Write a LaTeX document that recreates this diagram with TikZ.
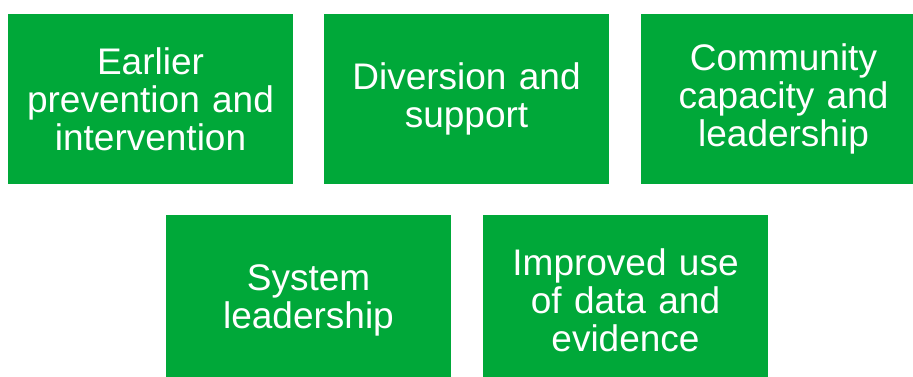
\documentclass[tikz,border=0pt]{standalone}
\usepackage{fontspec}
\setmainfont{Liberation Sans}
\definecolor{boxgreen}{RGB}{0,168,57}
\begin{document}
\begin{tikzpicture}[x=1pt,y=-1pt,
  area/.style={fill=boxgreen, draw=none, text=white, inner sep=0pt,
    minimum width=285pt, minimum height=170pt, text width=280pt, align=center,
    font=\fontsize{37}{38}\selectfont}]
\clip (0,0) rectangle (913,376);
\fill[white] (0,0) rectangle (913,376);
\node[area] (a) at (150.5,99) {Earlier\\prevention and\\intervention};
\node[area] (b) at (466.5,99) {Diversion and\\support};
\node[area] (c) at (783.5,99) {Community\\capacity and\\leadership};
\node[area] (d) at (308.5,300) {System\\leadership};
\node[area] (e) at (625.5,300) {Improved use\\of data and\\evidence};
\end{tikzpicture}
\end{document}
